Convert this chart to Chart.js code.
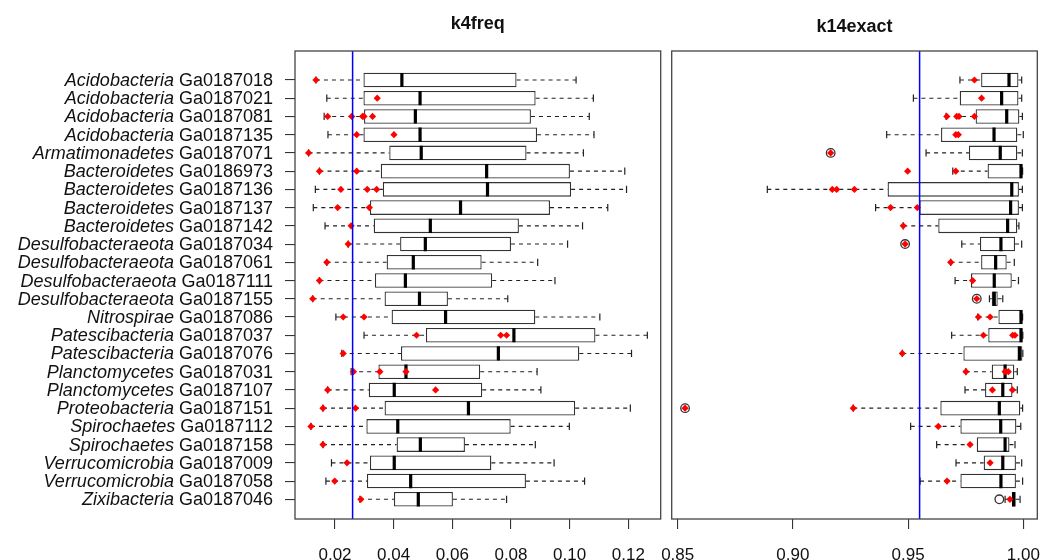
<!DOCTYPE html>
<html>
<head>
<meta charset="utf-8">
<script src="https://cdn.jsdelivr.net/npm/chart.js@4.4.1/dist/chart.umd.min.js"></script>
<style>
  html, body { margin: 0; padding: 0; background: #fff; }
  #wrap { position: relative; width: 1041px; height: 560px; overflow: hidden; }
  canvas { position: absolute; top: 0; }
  #left { left: 0; }
  #right { left: 640px; }
</style>
</head>
<body>
<div id="wrap">
  <canvas id="left" width="665" height="560"></canvas>
  <canvas id="right" width="401" height="560"></canvas>
</div>
<script>
// rows, top to bottom
const genera = ['Acidobacteria', 'Acidobacteria', 'Acidobacteria', 'Acidobacteria', 'Armatimonadetes',
    'Bacteroidetes', 'Bacteroidetes', 'Bacteroidetes', 'Bacteroidetes',
    'Desulfobacteraeota', 'Desulfobacteraeota', 'Desulfobacteraeota', 'Desulfobacteraeota',
    'Nitrospirae', 'Patescibacteria', 'Patescibacteria', 'Planctomycetes', 'Planctomycetes',
    'Proteobacteria', 'Spirochaetes', 'Spirochaetes', 'Verrucomicrobia', 'Verrucomicrobia', 'Zixibacteria'];
const genomes = ['Ga0187018', 'Ga0187021', 'Ga0187081', 'Ga0187135', 'Ga0187071',
    'Ga0186973', 'Ga0187136', 'Ga0187137', 'Ga0187142',
    'Ga0187034', 'Ga0187061', 'Ga0187111', 'Ga0187155',
    'Ga0187086', 'Ga0187037', 'Ga0187076', 'Ga0187031', 'Ga0187107',
    'Ga0187151', 'Ga0187112', 'Ga0187158', 'Ga0187009', 'Ga0187058', 'Ga0187046'];

// k4freq
const k4Lo  = [0.0135, 0.0172, 0.0163, 0.0176, 0.0110, 0.0147, 0.0133, 0.0126, 0.0166, 0.0245, 0.0172, 0.0147,
               0.0124, 0.0203, 0.0299, 0.0223, 0.0255, 0.0175, 0.0159, 0.0118, 0.0159, 0.0188, 0.0169, 0.0285];
const k4Q1  = [0.0297, 0.0297, 0.0299, 0.0297, 0.0385, 0.0356, 0.0363, 0.0319, 0.0332, 0.0422, 0.0376, 0.0336,
               0.0369, 0.0393, 0.0510, 0.0425, 0.0348, 0.0315, 0.0369, 0.0307, 0.0410, 0.0319, 0.0309, 0.0401];
const k4Med = [0.0428, 0.0490, 0.0474, 0.0490, 0.0494, 0.0717, 0.0720, 0.0628, 0.0525, 0.0508, 0.0467, 0.0440,
               0.0488, 0.0577, 0.0810, 0.0757, 0.0442, 0.0402, 0.0655, 0.0414, 0.0491, 0.0402, 0.0458, 0.0484];
const k4Q3  = [0.0819, 0.0884, 0.0868, 0.0889, 0.0853, 0.1001, 0.1005, 0.0933, 0.0827, 0.0800, 0.0700, 0.0736,
               0.0585, 0.0883, 0.1088, 0.1033, 0.0695, 0.0702, 0.1019, 0.0799, 0.0643, 0.0733, 0.0851, 0.0602];
const k4Hi  = [0.1022, 0.1081, 0.1067, 0.1083, 0.1047, 0.1188, 0.1194, 0.1130, 0.1044, 0.0993, 0.0891, 0.0950,
               0.0789, 0.1103, 0.1265, 0.1211, 0.0889, 0.0902, 0.1207, 0.0999, 0.0883, 0.0947, 0.1051, 0.0785];
const k4Out = [[], [], [], [], [], [], [], [], [], [], [], [], [], [], [], [], [], [], [], [], [], [], [], []];
const k4Red = [[0.0135], [0.0344], [0.0175, 0.0257, 0.0294, 0.0299, 0.0328], [0.0274, 0.0401], [0.0110],
               [0.0147, 0.0274], [0.0220, 0.0310, 0.0342], [0.0209, 0.0317], [0.0255], [0.0245], [0.0172],
               [0.0147], [0.0124], [0.0228, 0.0299], [0.0478, 0.0765, 0.0785], [0.0228],
               [0.0263, 0.0353, 0.0442], [0.0175, 0.0543], [0.0159, 0.0270], [0.0118], [0.0159],
               [0.0241], [0.0199], [0.0288]];
const k4Cutoff = 0.026;
const k4Ticks = [0.02, 0.04, 0.06, 0.08, 0.10, 0.12];

// k14exact
const k14Lo  = [0.9725, 0.9523, 0.9665, 0.9407, 0.9578, 0.9694, 0.8889, 0.9359, 0.9479, 0.9733, 0.9685, 0.9704,
                0.9853, 0.9802, 0.9689, 0.9475, 0.9751, 0.9747, 0.9262, 0.9511, 0.9624, 0.9708, 0.9552, 0.9921];
const k14Q1  = [0.9817, 0.9724, 0.9793, 0.9643, 0.9764, 0.9845, 0.9411, 0.9549, 0.9631, 0.9812, 0.9817, 0.9773,
                0.9863, 0.9892, 0.9848, 0.9740, 0.9863, 0.9834, 0.9640, 0.9727, 0.9798, 0.9828, 0.9727, 0.9950];
const k14Med = [0.9938, 0.9906, 0.9928, 0.9873, 0.9900, 0.9990, 0.9950, 0.9945, 0.9932, 0.9903, 0.9880, 0.9874,
                0.9874, 0.9990, 0.9990, 0.9983, 0.9921, 0.9911, 0.9896, 0.9902, 0.9921, 0.9911, 0.9903, 0.9958];
const k14Q3  = [0.9979, 0.9979, 0.9983, 0.9974, 0.9974, 0.9996, 0.9981, 0.9981, 0.9974, 0.9964, 0.9928, 0.9950,
                0.9889, 0.9996, 0.9997, 0.9996, 0.9961, 0.9953, 0.9987, 0.9970, 0.9940, 0.9968, 0.9968, 0.9967];
const k14Hi  = [0.9993, 0.9993, 0.9996, 1.0000, 0.9996, 0.9997, 0.9996, 0.9996, 0.9981, 0.9993, 0.9961, 0.9979,
                0.9911, 0.9997, 0.9998, 0.9998, 0.9974, 0.9974, 0.9997, 0.9989, 0.9964, 0.9993, 0.9997, 0.9986];
const k14Out = [[], [], [], [], [0.9164], [], [], [], [], [0.9487], [], [], [0.9798], [], [], [], [], [],
                [0.8532], [], [], [], [], [0.9896]];
const k14Red = [[0.9788], [0.9819], [0.9668, 0.9711, 0.9721, 0.9788], [0.9707, 0.9718], [0.9164],
                [0.9498, 0.9707], [0.9171, 0.9190, 0.9267], [0.9424, 0.9540], [0.9479], [0.9487], [0.9685],
                [0.9780], [0.9798], [0.9805, 0.9856], [0.9827, 0.9954, 0.9964], [0.9475],
                [0.9751, 0.9921, 0.9935], [0.9866, 0.9953], [0.8532, 0.9262], [0.9631], [0.9769],
                [0.9856], [0.9669], [0.9942]];
const k14Cutoff = 0.955;
const k14Ticks = [0.85, 0.90, 0.95, 1.00];

const FONT = '"Liberation Sans", Arial, Helvetica, sans-serif';
Chart.defaults.font.family = FONT;

// frame, cutoff line, title and row labels
const panelPlugin = {
    id: 'panel',
    afterDatasetsDraw(chart, args, opts) {
        const { ctx, chartArea: a, scales } = chart;
        ctx.save();
        const cx = scales.x.getPixelForValue(opts.cutoff);
        ctx.strokeStyle = '#0000ff';
        ctx.lineWidth = 1.5;
        ctx.beginPath();
        ctx.moveTo(cx, a.top);
        ctx.lineTo(cx, a.bottom);
        ctx.stroke();

        ctx.strokeStyle = '#444';
        ctx.lineWidth = 1.3;
        ctx.strokeRect(a.left, a.top, a.right - a.left, a.bottom - a.top);

        ctx.fillStyle = '#111';
        ctx.font = 'bold 18px ' + FONT;
        ctx.textAlign = 'center';
        ctx.textBaseline = 'alphabetic';
        ctx.fillText(opts.title, (a.left + a.right) / 2, opts.titleY);

        if (opts.rowLabels) {
            ctx.textAlign = 'right';
            const xr = a.left - 22;
            genera.forEach((g, i) => {
                const y = scales.y.getPixelForValue(i + 1) + 6;
                ctx.font = '18px ' + FONT;
                ctx.fillText(genomes[i], xr, y);
                const w = ctx.measureText(genomes[i]).width;
                ctx.font = 'italic 18px ' + FONT;
                ctx.fillText(g + ' ', xr - w, y);
            });
        }
        ctx.restore();
    }
};

function boxDatasets(lo, q1, med, q3, hi, outl, red) {
    const rows = lo.map((_, i) => i + 1);
    const whisk = [];
    rows.forEach((r, i) => {
        whisk.push({ x: lo[i], y: r }, { x: q1[i], y: r }, { x: null, y: null },
                   { x: q3[i], y: r }, { x: hi[i], y: r }, { x: null, y: null });
    });
    const staples = [];
    rows.forEach((r, i) => staples.push({ x: lo[i], y: r }, { x: hi[i], y: r }));
    const outPts = [];
    outl.forEach((vals, i) => vals.forEach(v => outPts.push({ x: v, y: i + 1 })));
    const redPts = [];
    red.forEach((vals, i) => vals.forEach(v => redPts.push({ x: v, y: i + 1 })));

    return [
        {
            type: 'line', data: whisk, order: 6,
            borderColor: '#222', borderWidth: 1.1, borderDash: [4, 4],
            pointRadius: 0, spanGaps: false, fill: false
        },
        {
            type: 'bar', indexAxis: 'y', order: 5,
            data: rows.map((r, i) => ({ x: [q1[i], q3[i]], y: r })),
            backgroundColor: '#fff', borderColor: '#333', borderWidth: 1.3,
            borderSkipped: false, categoryPercentage: 1, barPercentage: 0.8
        },
        {
            type: 'scatter', data: staples, order: 4,
            pointStyle: 'line', rotation: 90, pointRadius: 3.6,
            borderColor: '#222', borderWidth: 1.2
        },
        {
            type: 'scatter', order: 3,
            data: rows.map((r, i) => ({ x: med[i], y: r })),
            pointStyle: 'line', rotation: 90, pointRadius: 7.1,
            borderColor: '#000', borderWidth: 3.2
        },
        {
            type: 'scatter', data: outPts, order: 2,
            pointStyle: 'circle', pointRadius: 4.3,
            backgroundColor: 'rgba(0,0,0,0)', borderColor: '#333', borderWidth: 1.3
        },
        {
            type: 'scatter', data: redPts, order: 1,
            pointStyle: 'rectRot', pointRadius: 3.6,
            backgroundColor: '#ff0000', borderColor: '#ff0000', borderWidth: 0
        }
    ];
}

function makePanel(id, cfg) {
    new Chart(document.getElementById(id), {
        type: 'bar',
        data: { datasets: boxDatasets(cfg.lo, cfg.q1, cfg.med, cfg.q3, cfg.hi, cfg.out, cfg.red) },
        options: {
            responsive: false,
            animation: false,
            events: [],
            layout: { padding: cfg.padding, autoPadding: false },
            plugins: {
                legend: { display: false },
                tooltip: { enabled: false },
                panel: { cutoff: cfg.cutoff, title: cfg.title, titleY: cfg.titleY, rowLabels: cfg.rowLabels }
            },
            scales: {
                x: {
                    type: 'linear',
                    position: 'bottom',
                    min: cfg.xMin,
                    max: cfg.xMax,
                    offset: false,
                    afterBuildTicks: s => { s.ticks = cfg.ticks.map(v => ({ value: v })); },
                    afterFit: s => { s.height = 41; s.paddingLeft = 0; s.paddingRight = 0; },
                    ticks: {
                        color: '#111',
                        font: { size: 17 },
                        padding: 16,
                        maxRotation: 0,
                        autoSkip: false,
                        callback: v => Number(v).toFixed(2)
                    },
                    grid: { offset: false, drawOnChartArea: false, drawTicks: true, tickLength: 10, color: '#333', lineWidth: 1.1 },
                    border: { display: false }
                },
                y: {
                    type: 'linear',
                    display: cfg.rowLabels,
                    reverse: true,
                    min: -0.59,
                    max: 25.08,
                    offset: false,
                    afterBuildTicks: s => { s.ticks = genomes.map((_, i) => ({ value: i + 1 })); },
                    afterFit: s => { s.width = cfg.rowLabels ? 295 : 0; s.paddingTop = 0; s.paddingBottom = 0; },
                    ticks: { callback: () => '' },
                    grid: { offset: false, drawOnChartArea: false, drawTicks: true, tickLength: 10, color: '#333', lineWidth: 1.1 },
                    border: { display: false }
                }
            }
        },
        plugins: [panelPlugin]
    });
}

makePanel('left', {
    lo: k4Lo, q1: k4Q1, med: k4Med, q3: k4Q3, hi: k4Hi, out: k4Out, red: k4Red,
    cutoff: k4Cutoff, ticks: k4Ticks, xMin: 0.00636, xMax: 0.13105,
    title: 'k4freq', titleY: 28.5, rowLabels: true,
    padding: { top: 51, left: 0, right: 4.3, bottom: 0 }
});

makePanel('right', {
    lo: k14Lo, q1: k14Q1, med: k14Med, q3: k14Q3, hi: k14Hi, out: k14Out, red: k14Red,
    cutoff: k14Cutoff, ticks: k14Ticks, xMin: 0.8474, xMax: 1.00608,
    title: 'k14exact', titleY: 32, rowLabels: false,
    padding: { top: 51, left: 31.7, right: 3.7, bottom: 0 }
});
</script>
</body>
</html>
